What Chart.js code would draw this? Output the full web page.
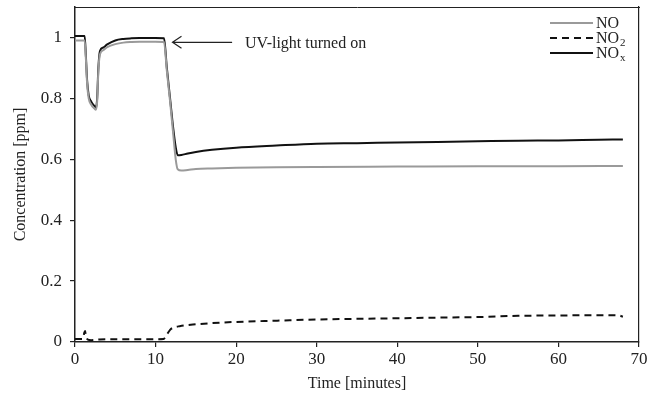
<!DOCTYPE html>
<html>
<head>
<meta charset="utf-8">
<script src="https://cdn.jsdelivr.net/npm/chart.js@4/dist/chart.umd.min.js"></script>
<style>
  body { margin: 0; background: #fff; }
  canvas { display: block; }
</style>
</head>
<body>
<canvas id="chart" width="659" height="399"></canvas>
<script>
// NOx (black)
const noxTime = [0, 0.5, 1.2, 1.35, 1.5, 1.7, 2.0, 2.4, 2.6, 2.75, 2.9, 3.1, 3.5, 4, 5, 6, 7, 8, 9, 10, 11.05, 11.4, 11.8, 12.2, 12.5, 12.75, 13.2, 14, 15, 17, 20, 25, 30, 35, 40, 45, 50, 55, 60, 65, 68];
const noxValues = [1.005, 1.005, 1.005, 0.94, 0.86, 0.81, 0.79, 0.775, 0.77, 0.8, 0.9, 0.955, 0.967, 0.977, 0.99, 0.995, 0.997, 0.998, 0.998, 0.998, 0.997, 0.9, 0.8, 0.7, 0.64, 0.613, 0.614, 0.619, 0.624, 0.631, 0.638, 0.645, 0.651, 0.653, 0.655, 0.657, 0.659, 0.661, 0.662, 0.664, 0.665];

// NO (grey)
const noTime = [0, 0.5, 1.2, 1.35, 1.5, 1.7, 2.0, 2.4, 2.6, 2.75, 2.9, 3.1, 3.5, 4, 5, 6, 7, 8, 9, 10, 11.05, 11.4, 11.8, 12.2, 12.5, 12.75, 13.2, 14, 15, 17, 20, 25, 30, 40, 50, 60, 68];
const noValues = [0.99, 0.99, 0.99, 0.93, 0.85, 0.8, 0.78, 0.767, 0.763, 0.79, 0.89, 0.945, 0.958, 0.968, 0.978, 0.983, 0.985, 0.986, 0.986, 0.986, 0.985, 0.89, 0.79, 0.68, 0.6, 0.567, 0.563, 0.565, 0.568, 0.57, 0.572, 0.574, 0.575, 0.576, 0.577, 0.577, 0.578];

// NO2 (dashed)
const no2Time = [0, 0.5, 1.0, 1.15, 1.25, 1.35, 1.6, 2, 3, 5, 7, 9, 11, 11.3, 11.8, 12.2, 13, 15, 17, 20, 25, 30, 35, 40, 45, 50, 55, 60, 65, 67.5, 68];
const no2Values = [0.01, 0.01, 0.01, 0.03, 0.036, 0.02, 0.008, 0.006, 0.008, 0.009, 0.009, 0.009, 0.01, 0.02, 0.04, 0.047, 0.052, 0.058, 0.062, 0.066, 0.07, 0.074, 0.076, 0.078, 0.08, 0.082, 0.086, 0.087, 0.088, 0.087, 0.083];

const xTicks = [0, 10, 20, 30, 40, 50, 60, 70];
const yTicks = [0, 0.2, 0.4, 0.6, 0.8, 1];

// arrow annotation, in data units
const arrowTip = [12.1, 0.984];
const arrowTail = [19.5, 0.984];
const arrowText = "UV-light turned on";
const arrowTextStart = 21.1;

const legendNames = [["NO", ""], ["NO", "2"], ["NO", "x"]];

const serif = "'Liberation Serif', 'Times New Roman', serif";

function pairs(t, v) {
    return t.map((x, i) => ({ x: x, y: v[i] }));
}

const annotationPlugin = {
    id: "arrowNote",
    afterDatasetsDraw(chart) {
        const ctx = chart.ctx;
        const xs = chart.scales.x, ys = chart.scales.y;
        const x1 = xs.getPixelForValue(arrowTip[0]), y1 = ys.getPixelForValue(arrowTip[1]);
        const x2 = xs.getPixelForValue(arrowTail[0]);
        ctx.save();
        ctx.strokeStyle = "#222";
        ctx.lineWidth = 1.2;
        ctx.beginPath();
        ctx.moveTo(x2, y1);
        ctx.lineTo(x1, y1);
        ctx.moveTo(x1 + 9, y1 - 6);
        ctx.lineTo(x1, y1);
        ctx.lineTo(x1 + 9, y1 + 6);
        ctx.stroke();
        ctx.fillStyle = "#222";
        ctx.font = "16px " + serif;
        ctx.textBaseline = "middle";
        ctx.fillText(arrowText, xs.getPixelForValue(arrowTextStart), y1 + 1);

        // legend, top right inside the frame
        const area = chart.chartArea;
        const lineL = area.right - 89, lineR = area.right - 46;
        chart.data.datasets.forEach((ds, i) => {
            const y = area.top + 16 + i * 15;
            ctx.strokeStyle = ds.borderColor;
            ctx.lineWidth = ds.borderWidth;
            ctx.setLineDash(ds.borderDash || []);
            ctx.beginPath();
            ctx.moveTo(lineL, y);
            ctx.lineTo(lineR, y);
            ctx.stroke();
            ctx.setLineDash([]);
            ctx.fillStyle = "#222";
            ctx.font = "16px " + serif;
            ctx.textBaseline = "middle";
            const tx = lineR + 3;
            ctx.fillText(legendNames[i][0], tx, y + 1);
            if (legendNames[i][1]) {
                const w = ctx.measureText(legendNames[i][0]).width;
                ctx.font = "11px " + serif;
                ctx.fillText(legendNames[i][1], tx + w + 1, y + 5);
            }
        });
        ctx.restore();
    }
};

const chart = new Chart(document.getElementById("chart"), {
    type: "line",
    data: {
        datasets: [
            {
                label: "NO",
                data: pairs(noTime, noValues),
                borderColor: "#9a9a9a",
                borderWidth: 2,
                pointRadius: 0,
                cubicInterpolationMode: "monotone"
            },
            {
                label: "NO2",
                data: pairs(no2Time, no2Values),
                borderColor: "#111",
                borderWidth: 2,
                borderDash: [7, 5],
                pointRadius: 0,
                cubicInterpolationMode: "monotone"
            },
            {
                label: "NOx",
                data: pairs(noxTime, noxValues),
                borderColor: "#111",
                borderWidth: 2,
                pointRadius: 0,
                cubicInterpolationMode: "monotone"
            }
        ]
    },
    options: {
        responsive: false,
        animation: false,
        layout: { padding: 0 },
        plugins: {
            legend: { display: false },
            tooltip: { enabled: false }
        },
        scales: {
            x: {
                type: "linear",
                position: "bottom",
                min: 0,
                max: 70,
                afterBuildTicks: (s) => { s.ticks = xTicks.map(v => ({ value: v })); },
                afterFit: (s) => { s.height = 57; },
                ticks: {
                    color: "#222",
                    font: { family: serif, size: 17 },
                    padding: 2,
                    maxRotation: 0
                },
                grid: { drawOnChartArea: false, tickLength: 5, color: "#222", lineWidth: 1.2 },
                border: { color: "#222", width: 1.5 },
                title: {
                    display: true,
                    text: "Time [minutes]",
                    color: "#222",
                    font: { family: serif, size: 16 },
                    padding: { top: 0, bottom: 6 }
                }
            },
            y: {
                type: "linear",
                position: "left",
                min: 0,
                max: 1.1,
                afterBuildTicks: (s) => { s.ticks = yTicks.map(v => ({ value: v })); },
                afterFit: (s) => { s.width = 75; s.paddingTop = 0; s.paddingBottom = 0; },
                ticks: {
                    color: "#222",
                    font: { family: serif, size: 17 },
                    padding: 8,
                    callback: (v) => String(Math.round(v * 10) / 10)
                },
                grid: { drawOnChartArea: false, tickLength: 5, color: "#222", lineWidth: 1.2 },
                border: { color: "#222", width: 1.5 },
                title: {
                    display: true,
                    text: "Concentration [ppm]",
                    color: "#222",
                    font: { family: serif, size: 16 },
                    padding: { top: 11, bottom: 0 }
                }
            },
            xTop: {
                type: "linear",
                position: "top",
                min: 0,
                max: 70,
                ticks: { display: false },
                grid: { display: false },
                border: { color: "#222", width: 1 },
                afterFit: (s) => { s.height = 7; }
            },
            yRight: {
                type: "linear",
                position: "right",
                min: 0,
                max: 1.1,
                ticks: { display: false },
                grid: { display: false },
                border: { color: "#222", width: 1.2 },
                afterFit: (s) => { s.width = 20; }
            }
        }
    },
    plugins: [annotationPlugin]
});
</script>
</body>
</html>
